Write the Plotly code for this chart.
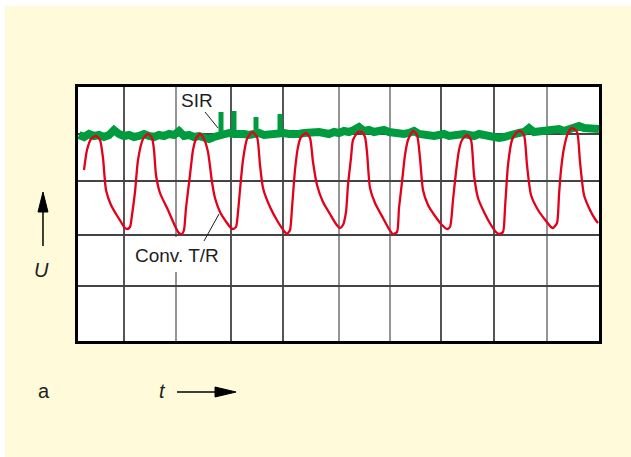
import plotly.graph_objects as go

# ---- data (time axis 0..521, voltage axis 0..254, arbitrary units) ----
sir_t = [1, 6, 11, 16, 21, 26, 31, 36, 41, 46, 51, 56, 61, 66, 71, 76, 81, 86, 91, 96,
         101, 106, 111, 116, 121, 126, 131, 136, 141, 146, 151, 156, 161, 166, 171, 176, 181, 186, 191, 196,
         201, 206, 211, 216, 221, 226, 231, 236, 241, 246, 251, 256, 261, 266, 271, 276, 281, 286, 291, 296,
         301, 306, 311, 316, 321, 326, 331, 336, 341, 346, 351, 356, 361, 366, 371, 376, 381, 386, 391, 396,
         401, 406, 411, 416, 421, 426, 431, 436, 441, 446, 451, 456, 461, 466, 471, 476, 481, 486, 491, 496,
         501, 506, 511, 516, 521]
sir_u = [206, 204, 207, 205, 206, 204, 206, 211, 207, 205, 206, 204, 205, 207, 205, 204, 206, 205, 207, 206,
         210, 205, 206, 204, 205, 203, 202, 204, 206, 207, 208, 207, 208, 207, 206, 207, 208, 206, 207, 208,
         207, 208, 207, 206, 207, 208, 209, 208, 209, 208, 207, 209, 208, 210, 209, 211, 214, 210, 211, 209,
         210, 211, 209, 208, 209, 207, 208, 210, 207, 206, 207, 205, 206, 207, 205, 206, 205, 207, 206, 205,
         207, 206, 204, 205, 203, 204, 206, 207, 208, 209, 213, 209, 210, 211, 210, 211, 212, 210, 211, 212,
         215, 213, 212, 213, 212]
spike_t = [143, 156, 178, 202]
spike_top = [229, 230, 224, 227]
spike_base = [207, 207, 207, 208]

conv_t = [6, 9, 13, 18, 22, 25, 28, 33, 38, 43, 46, 49, 52, 54, 57, 60, 65, 70,
          74, 76, 78, 82, 90, 97, 101, 104, 106, 108, 112, 115, 118, 122,
          126, 130, 134, 137, 142, 149, 153, 155, 158, 160, 162, 165, 169, 174,
          179, 182, 185, 192, 200, 206, 209, 212, 214, 217, 220, 223, 228,
          232, 235, 239, 245, 252, 258, 262, 265, 268, 270, 273, 275, 280, 284,
          287, 289, 292, 297, 305, 311, 315, 319, 321, 324, 327, 330, 335,
          339, 342, 345, 350, 357, 364, 369, 372, 375, 378, 381, 384, 389,
          393, 396, 400, 406, 413, 418, 421, 425, 427, 430, 434, 438, 442,
          446, 449, 453, 460, 468, 473, 475, 479, 481, 483, 486, 490, 494,
          499, 502, 506, 512, 517, 520]
conv_u = [171, 191, 202, 205, 201, 183, 151, 136, 127, 119, 114, 112, 114, 126, 149, 181, 202, 207,
          203, 191, 166, 148, 131, 115, 108, 107, 111, 133, 166, 191, 202, 207,
          202, 189, 159, 143, 129, 118, 113, 112, 114, 129, 151, 181, 202, 209,
          204, 176, 153, 134, 119, 110, 107, 111, 133, 171, 194, 204, 208,
          203, 179, 156, 139, 127, 117, 113, 116, 129, 156, 183, 201, 209, 209,
          204, 189, 153, 138, 123, 112, 107, 109, 133, 159, 186, 201, 210,
          206, 183, 151, 136, 125, 116, 112, 114, 141, 169, 191, 201, 206,
          201, 166, 143, 129, 116, 109, 107, 109, 133, 176, 201, 208, 210,
          206, 176, 146, 131, 120, 114, 113, 118, 146, 171, 193, 208, 213,
          209, 179, 146, 131, 122, 118]

grid_t_dark = [46, 153, 205, 363, 416]
grid_t_light = [98, 261, 312, 469]
grid_u = [55, 106, 160, 207]

GREEN = "#009B3E"
RED = "#E2001A"
YELLOW = "#FFFBDA"
TXT = "#1e1e1e"
FONT = "Liberation Sans, Arial, sans-serif"

fig = go.Figure()

fig.add_trace(go.Scatter(x=sir_t, y=sir_u, mode="lines",
                         line=dict(color=GREEN, width=8), hoverinfo="skip", showlegend=False))
sx, sy = [], []
for t, top, base in zip(spike_t, spike_top, spike_base):
    sx += [t, t, None]
    sy += [base, top, None]
fig.add_trace(go.Scatter(x=sx, y=sy, mode="lines",
                         line=dict(color=GREEN, width=5), hoverinfo="skip", showlegend=False))
fig.add_trace(go.Scatter(x=conv_t, y=conv_u, mode="lines", line_shape="spline",
                         line=dict(color=RED, width=2.3, smoothing=0.6),
                         hoverinfo="skip", showlegend=False))

shapes = []
# white strips at the top and left of the yellow panel
shapes.append(dict(type="rect", xref="paper", yref="paper", x0=-0.3, x1=1.2, y0=1.3189, y1=1.5,
                   fillcolor="white", line=dict(width=0), layer="below"))
shapes.append(dict(type="rect", xref="paper", yref="paper", x0=-0.3, x1=-0.1401, y0=-0.6, y1=1.5,
                   fillcolor="white", line=dict(width=0), layer="below"))
for t in grid_t_light:
    shapes.append(dict(type="line", xref="x", yref="paper", x0=t, x1=t, y0=0, y1=1,
                       line=dict(color="#7a7a7a", width=1.6), layer="below"))
for t in grid_t_dark:
    shapes.append(dict(type="line", xref="x", yref="paper", x0=t, x1=t, y0=0, y1=1,
                       line=dict(color="#2a2a2a", width=1.6), layer="below"))
for u in grid_u:
    shapes.append(dict(type="line", xref="paper", yref="y", x0=0, x1=1, y0=u, y1=u,
                       line=dict(color="#444444", width=2), layer="below"))
# white box behind the "Conv. T/R" label
shapes.append(dict(type="rect", xref="x", yref="y", x0=52, x1=148, y0=69, y1=104,
                   fillcolor="white", line=dict(width=0), layer="below"))
# leader lines
shapes.append(dict(type="line", xref="x", yref="y", x0=127, y0=229, x1=140, y1=213,
                   line=dict(color=TXT, width=1)))
shapes.append(dict(type="line", xref="x", yref="y", x0=126, y0=100, x1=141, y1=127,
                   line=dict(color=TXT, width=1)))
# t arrow
shapes.append(dict(type="line", xref="paper", yref="paper", x0=0.1900, y0=-0.2008, x1=0.2687, y1=-0.2008,
                   line=dict(color="black", width=1.5)))
shapes.append(dict(type="path", xref="paper", yref="paper",
                   path="M 0.2630 -0.1811 L 0.3033 -0.2008 L 0.2630 -0.2205 Z",
                   fillcolor="black", line=dict(color="black", width=1)))
# U arrow
shapes.append(dict(type="line", xref="paper", yref="paper", x0=-0.0672, y0=0.3740, x1=-0.0672, y1=0.5100,
                   line=dict(color="black", width=1.5)))
shapes.append(dict(type="path", xref="paper", yref="paper",
                   path="M -0.0768 0.5079 L -0.0672 0.5866 L -0.0576 0.5079 Z",
                   fillcolor="black", line=dict(color="black", width=1)))

annotations = [
    dict(x=119, y=241, xref="x", yref="y", text="SIR", showarrow=False,
         xanchor="center", yanchor="middle",
         font=dict(family=FONT, size=19, color=TXT)),
    dict(x=99, y=86, xref="x", yref="y", text="Conv. T/R", showarrow=False,
         xanchor="center", yanchor="middle",
         font=dict(family=FONT, size=19, color=TXT)),
    dict(x=-0.0653, y=-0.1969, xref="paper", yref="paper", text="a", showarrow=False,
         xanchor="center", yanchor="middle",
         font=dict(family=FONT, size=20, color=TXT)),
    dict(x=0.1631, y=-0.1950, xref="paper", yref="paper", text="<i>t</i>", showarrow=False,
         xanchor="center", yanchor="middle",
         font=dict(family=FONT, size=20, color=TXT)),
    dict(x=-0.0691, y=0.2795, xref="paper", yref="paper", text="<i>U</i>", showarrow=False,
         xanchor="center", yanchor="middle",
         font=dict(family=FONT, size=20, color=TXT)),
]

fig.update_layout(
    width=631, height=457,
    margin=dict(l=78, r=32, t=87, b=116, pad=0),
    paper_bgcolor=YELLOW, plot_bgcolor="white",
    shapes=shapes, annotations=annotations,
    xaxis=dict(range=[0, 521], showgrid=False, zeroline=False, showticklabels=False, ticks="",
               showline=True, mirror=True, linecolor="black", linewidth=2.5, fixedrange=True),
    yaxis=dict(range=[0, 254], showgrid=False, zeroline=False, showticklabels=False, ticks="",
               showline=True, mirror=True, linecolor="black", linewidth=2.5, fixedrange=True),
    showlegend=False,
)

fig.write_html("out.html", config={"displayModeBar": False})
